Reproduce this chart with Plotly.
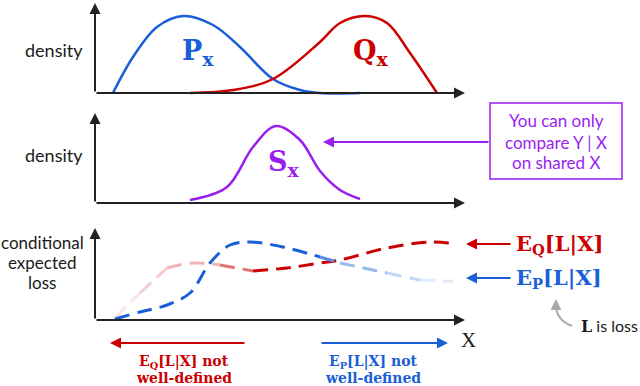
import plotly.graph_objects as go

W, H = 640, 386

# ---- data (x in arbitrary X units, heights in arbitrary density / loss units) ----
p_x = [18, 38, 62, 88, 118, 145, 178, 205, 225, 265]
p_y = [0, 36, 66, 77, 68, 46, 14, 3, 0, 0]

q_x = [95, 138, 178, 225, 245, 270, 292, 315, 342]
q_y = [0, 3, 14, 51, 70, 77, 70, 40, 0]

s_x = [95, 132, 158, 181, 205, 225, 245, 265]
s_y = [3, 16, 56, 77, 63, 32, 13, 4]

eq_x = [20, 45, 72, 98, 125, 158, 192, 225, 245, 292, 335, 362]
eq_y = [2, 27, 52, 57, 55, 49, 52, 57, 60, 72, 78, 76]

ep_x = [20, 45, 72, 95, 115, 135, 155, 188, 225, 245, 292, 325, 352, 358]
ep_y = [1, 8, 15, 27, 57, 75, 78, 73, 63, 57, 47, 40, 39, 39]

# colour ramps along the conditional loss curves (fade where undefined)
eq_segments = [(0, 1, "#fae4e4"), (1, 2, "#f6cccc"), (2, 4, "#f0b4b4"),
               (4, 5, "#e47474"), (5, 11, "#cc0000")]
ep_segments = [(0, 8, "#1a5fd6"), (8, 9, "#5a8de2"), (9, 10, "#98b9ee"),
               (10, 11, "#c1d5f6"), (11, 13, "#e2ebfb")]

BLUE, RED, PURPLE, INK = "#1a5fd6", "#cc0000", "#9a1ef0", "#1a1a1a"
SERIF = "DejaVu Serif"
SANS = "Lato"


def px(x):
    return x / W


def py(y):
    return 1 - y / H


def ydom(base, h, pad_top=6):
    return [py(base + 6), py(base - h - pad_top)]


fig = go.Figure()

# panel 1: P_x and Q_x
fig.add_trace(go.Scatter(x=p_x, y=p_y, mode="lines", line=dict(color=BLUE, width=2.5, shape="spline"),
                         xaxis="x", yaxis="y"))
fig.add_trace(go.Scatter(x=q_x, y=q_y, mode="lines", line=dict(color=RED, width=2.5, shape="spline"),
                         xaxis="x", yaxis="y"))
# panel 2: S_x
fig.add_trace(go.Scatter(x=s_x, y=s_y, mode="lines", line=dict(color=PURPLE, width=2.5, shape="spline"),
                         xaxis="x2", yaxis="y2"))
# panel 3: conditional expected loss
for a, b, c in eq_segments:
    fig.add_trace(go.Scatter(x=eq_x[a:b + 1], y=eq_y[a:b + 1], mode="lines",
                             line=dict(color=c, width=3, shape="spline", dash="15px,8px"),
                             xaxis="x3", yaxis="y3"))
for a, b, c in ep_segments:
    fig.add_trace(go.Scatter(x=ep_x[a:b + 1], y=ep_y[a:b + 1], mode="lines",
                             line=dict(color=c, width=3, shape="spline", dash="15px,8px"),
                             xaxis="x3", yaxis="y3"))

xdom = [px(85), px(475)]
ax_common = dict(visible=False, fixedrange=True)
fig.update_layout(
    width=W, height=H, margin=dict(l=0, r=0, t=0, b=0),
    paper_bgcolor="white", plot_bgcolor="rgba(0,0,0,0)", showlegend=False,
    xaxis=dict(domain=xdom, range=[-10, 380], anchor="y", **ax_common),
    xaxis2=dict(domain=xdom, range=[-10, 380], anchor="y2", **ax_common),
    xaxis3=dict(domain=xdom, range=[-10, 380], anchor="y3", **ax_common),
    yaxis=dict(domain=ydom(93, 90, 2), range=[-6, 92], anchor="x", **ax_common),
    yaxis2=dict(domain=ydom(203, 90), range=[-6, 96], anchor="x2", **ax_common),
    yaxis3=dict(domain=ydom(320, 92), range=[-6, 98], anchor="x3", **ax_common),
)

ann = []
# axis arrows
for xr, yr, top in [("x", "y", 90), ("x2", "y2", 90), ("x3", "y3", 92)]:
    for hx, hy in [(0, top), (370, 0)]:
        ann.append(dict(x=hx, y=hy, ax=0, ay=0, xref=xr, yref=yr, axref=xr, ayref=yr,
                        text="", showarrow=True, arrowhead=2, arrowsize=1.1,
                        arrowwidth=2, arrowcolor="#222"))


def label(x, y, text, size, color=INK, family=SANS, xanchor="center"):
    ann.append(dict(x=px(x), y=py(y), xref="paper", yref="paper", text=text, showarrow=False,
                    xanchor=xanchor, yanchor="middle",
                    font=dict(family=family, size=size, color=color)))


def arrow(x0, y0, x1, y1, color, head=2):
    ann.append(dict(x=px(x1), y=py(y1), ax=x0 - x1, ay=y0 - y1, xref="paper", yref="paper",
                    axref="pixel", ayref="pixel", text="", showarrow=True, arrowhead=head,
                    arrowsize=1.1, arrowwidth=2, arrowcolor=color))


label(54, 50, "density", 18)
label(54, 155, "density", 18)
label(42, 242, "conditional", 17)
label(42, 262, "expected", 17)
label(42, 282, "loss", 17)

label(198, 52, "<b>P<sub>x</sub></b>", 27, BLUE, SERIF)
label(371, 52, "<b>Q<sub>x</sub></b>", 27, RED, SERIF)
label(284, 164, "<b>S<sub>x</sub></b>", 27, PURPLE, SERIF)

# purple note box
fig.add_shape(type="rect", xref="paper", yref="paper", x0=px(490), x1=px(622), y0=py(179), y1=py(103),
              line=dict(color=PURPLE, width=1.5), fillcolor="white")
label(556, 120, "You can only", 17, PURPLE)
label(556, 142, "compare Y | X", 17, PURPLE)
label(556, 163, "on shared X", 17, PURPLE)
arrow(490, 142, 323, 142, PURPLE)

# loss curve labels
arrow(512, 244, 466, 244, RED)
arrow(512, 278, 466, 278, BLUE)
label(514, 244, "<b>E<sub>Q</sub>[L|X]</b>", 21, RED, SERIF, "left")
label(514, 278, "<b>E<sub>P</sub>[L|X]</b>", 21, BLUE, SERIF, "left")

# "L is loss" with curved grey arrow
fig.add_shape(type="path", xref="paper", yref="paper",
              path=f"M {px(572)},{py(326)} Q {px(556)},{py(320)} {px(556)},{py(305)}",
              line=dict(color="#aaaaaa", width=2))
arrow(556, 306, 556, 299, "#aaaaaa")
label(579, 326, f"<span style='font-family:{SERIF}'><b>L</b></span> is loss", 16, INK, SANS, "left")

label(459, 340, "X", 21, INK, "Liberation Serif", "left")

# undefined regions below the axis
arrow(246, 343, 110, 343, RED)
arrow(320, 343, 448, 343, BLUE)
label(184, 362, "<b>E<sub>Q</sub>[L|X] not</b>", 14, RED, SERIF)
label(184, 378, "<b>well-defined</b>", 14, RED, SERIF)
label(373, 362, "<b>E<sub>P</sub>[L|X] not</b>", 14, BLUE, SERIF)
label(373, 378, "<b>well-defined</b>", 14, BLUE, SERIF)

fig.update_layout(annotations=ann)
fig.write_html("out.html", config={"displayModeBar": False},
               post_script="document.body.style.margin='0';")
